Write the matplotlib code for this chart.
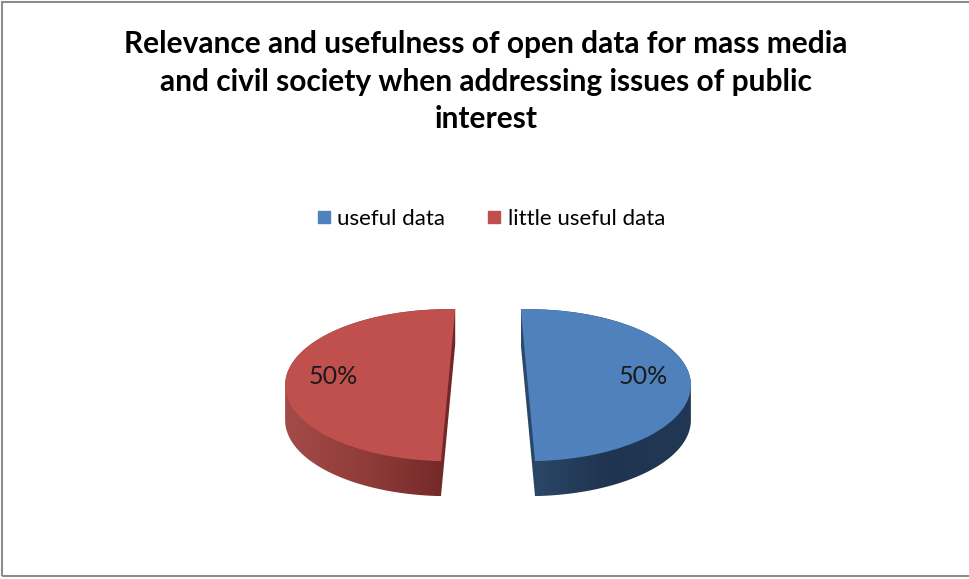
import numpy as np
import matplotlib.pyplot as plt
from matplotlib.lines import Line2D
from matplotlib.patches import Rectangle, Polygon
from matplotlib.colors import LinearSegmentedColormap

plt.rcParams['font.family'] = ['Lato', 'DejaVu Sans']

# data
title = ('Relevance and usefulness of open data for mass media\n'
         'and civil society when addressing issues of public\ninterest')
labels = ['useful data', 'little useful data']
values = [50, 50]
top_colors = ['#4f81bd', '#c0504d']
side_colors = [['#2d4a6c', '#1f3450', '#213854'],
               ['#a44b48', '#8e3b39', '#6f2626']]
# slight tilt of each cut face (fake perspective)
start_angles = [92.5, 87.5]

W, H = 970, 579
fig = plt.figure(figsize=(W / 100, H / 100), dpi=100)

# pie geometry (pixels): center, radii, depth
cx, cy, rx, ry, depth_px = 488, 386, 163, 76, 35
xl, yl = 2.2, 2.0
ax = fig.add_axes([(cx - xl * rx) / W, (H - cy - yl * ry) / H,
                   2 * xl * rx / W, 2 * yl * ry / H])
depth = depth_px / ry
explode = [0.245, 0.245]


def hull(pts):
    pts = sorted(set(map(tuple, np.round(pts, 6))))
    def cross(o, a, b):
        return (a[0] - o[0]) * (b[1] - o[1]) - (a[1] - o[1]) * (b[0] - o[0])
    lower, upper = [], []
    for p in pts:
        while len(lower) >= 2 and cross(lower[-2], lower[-1], p) <= 0:
            lower.pop()
        lower.append(p)
    for p in reversed(pts):
        while len(upper) >= 2 and cross(upper[-2], upper[-1], p) <= 0:
            upper.pop()
        upper.append(p)
    return np.array(lower[:-1] + upper[:-1])


def outline(wedge):
    # sample the wedge outline densely (arcs are bezier curves)
    t = np.linspace(0, 1, 25)
    return np.vstack([bez(t) for bez, _ in wedge.get_path().iter_bezier()])


for i in range(len(values)):
    cols = [c if j == i else 'none' for j, c in enumerate(top_colors)]
    # bottom copy, only used to get the side shape
    bottom, _ = ax.pie(values, startangle=start_angles[i], counterclock=False,
                       explode=explode, center=(0, -depth), colors=cols,
                       wedgeprops=dict(linewidth=0))
    top, _, autotexts = ax.pie(values, startangle=start_angles[i],
                               counterclock=False, explode=explode, colors=cols,
                               autopct='%d%%', pctdistance=0.705,
                               wedgeprops=dict(linewidth=0, zorder=3),
                               textprops=dict(fontsize=18, color='#1a1a1a',
                                              zorder=4))
    for j, t in enumerate(autotexts):
        if j != i:
            t.set_visible(False)
            top[j].set_visible(False)
        else:
            x, y = t.get_position()
            t.set_position((x, y + 0.09))
    for w in bottom:
        w.set_visible(False)

    pts = np.vstack([outline(top[i]), outline(bottom[i])])
    poly = hull(pts)
    clip = Polygon(poly, closed=True, facecolor='none', edgecolor='none')
    ax.add_patch(clip)
    cmap = LinearSegmentedColormap.from_list('side%d' % i, side_colors[i])
    x0, x1 = poly[:, 0].min(), poly[:, 0].max()
    y0, y1 = poly[:, 1].min(), poly[:, 1].max()
    grad = np.linspace(0, 1, 256)[None, :]
    im = ax.imshow(grad, cmap=cmap, extent=(x0, x1, y0, y1), aspect='auto',
                   zorder=1, interpolation='bilinear')
    im.set_clip_path(clip)

ax.set_xlim(-xl, xl)
ax.set_ylim(-yl, yl)
ax.set_aspect('auto')
ax.axis('off')

fig.text(486 / W, 1 - 30 / H, title, ha='center', va='top', fontsize=21.5,
         fontweight='bold', linespacing=1.42, color='#000000')

handles = [Line2D([], [], marker='s', linestyle='none', color=c, markersize=8.5)
           for c in top_colors]
fig.legend(handles, labels, loc='center', bbox_to_anchor=(490 / W, 1 - 219 / H),
           ncol=2, frameon=False, fontsize=16, handletextpad=0.2,
           columnspacing=1.8, handlelength=0.8)

fig.patches.append(Rectangle((2.5 / W, 3.5 / H), 1.1, 1 - 5 / H,
                             transform=fig.transFigure, fill=False,
                             edgecolor='#8c8c8c', linewidth=1.5))

fig.savefig('out.png', dpi=100)
